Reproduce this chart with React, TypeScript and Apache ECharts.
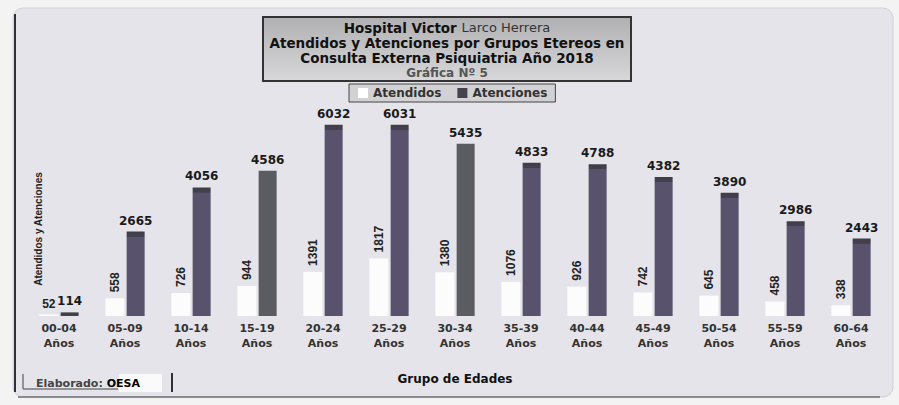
import React, { useEffect, useRef } from "react";
import * as echarts from "echarts";

const categories = ["00-04", "05-09", "10-14", "15-19", "20-24", "25-29", "30-34", "35-39", "40-44", "45-49", "50-54", "55-59", "60-64"];
const atendidos = [52, 558, 726, 944, 1391, 1817, 1380, 1076, 926, 742, 645, 458, 338];
const atenciones = [114, 2665, 4056, 4586, 6032, 6031, 5435, 4833, 4788, 4382, 3890, 2986, 2443];
const titleLines = ["Hospital Victor ", "Larco Herrera", "Atendidos y Atenciones por Grupos Etereos en", "Consulta Externa Psiquiatria Año 2018", "Gráfica Nº 5"];

const Y_MAX = 6500;
const PX_PER_UNIT = 206 / Y_MAX;

export default function App() {
  const ref = useRef<HTMLDivElement>(null);
  useEffect(() => {
    document.body.style.margin = "0";
    document.body.style.background = "#f3f3f4";
    const chart = echarts.init(ref.current!, undefined, { renderer: "svg" });
    const barColor = (v: number, i: number) => {
      const gray = i === 3 || i === 6;
      const base = gray ? "#5a5c62" : "#58526d";
      if (gray) return base;
      const h = Math.max(v * PX_PER_UNIT, 1);
      const cap = Math.min(1, 5 / h);
      return {
        type: "linear", x: 0, y: 0, x2: 0, y2: 1,
        colorStops: [
          { offset: 0, color: "#3f3d47" },
          { offset: cap, color: "#45424f" },
          { offset: Math.min(1, cap + 0.001), color: base },
          { offset: 1, color: base },
        ],
      };
    };
    chart.setOption({
      animation: false,
      backgroundColor: "transparent",
      legend: {
        top: 84,
        left: 349,
        padding: [3, 8, 3, 9],
        backgroundColor: "#d2d2d4",
        borderColor: "#444",
        borderWidth: 1,
        itemWidth: 10,
        itemHeight: 10,
        itemGap: 16,
        icon: "rect",
        textStyle: { fontFamily: "DejaVu Sans", fontWeight: "bold", fontSize: 12, color: "#333" },
        data: [
          { name: "Atendidos", itemStyle: { color: "#ffffff" } },
          { name: "Atenciones", itemStyle: { color: "#45424f" } },
        ],
      },
      grid: { left: 26, right: 15, top: 110, bottom: 89 },
      xAxis: {
        type: "category",
        data: categories.map((c) => c + "\nAños"),
        axisLine: { show: false },
        axisTick: { show: false },
        axisLabel: {
          interval: 0,
          margin: 5,
          fontFamily: "DejaVu Sans",
          fontWeight: "bold",
          fontSize: 11,
          lineHeight: 15,
          color: "#333",
        },
        name: "Grupo de Edades",
        nameLocation: "middle",
        nameGap: 57,
        nameTextStyle: { fontFamily: "DejaVu Sans", fontWeight: "bold", fontSize: 12, color: "#111" },
      },
      yAxis: {
        type: "value",
        min: 0,
        max: Y_MAX,
        show: false,
        splitLine: { show: false },
      },
      series: [
        {
          name: "Atendidos",
          type: "bar",
          barWidth: 19,
          barGap: "12%",
          itemStyle: { color: "#fcfcfc" },
          data: atendidos.map((v, i) =>
            i === 0
              ? { value: v, label: { rotate: 0, align: "center", verticalAlign: "bottom", distance: 4 } }
              : v
          ),
          label: {
            show: true,
            position: "top",
            rotate: 90,
            align: "left",
            verticalAlign: "middle",
            distance: 6,
            fontFamily: "Liberation Sans Narrow, Liberation Sans",
            fontWeight: "bold",
            fontSize: 12,
            color: "#222",
          },
        },
        {
          name: "Atenciones",
          type: "bar",
          barWidth: 18,
          itemStyle: { color: "#58526d" },
          data: atenciones.map((v, i) => ({ value: v, itemStyle: { color: barColor(v, i) } })),
          label: {
            show: true,
            position: "top",
            distance: 5,
            fontFamily: "DejaVu Sans",
            fontWeight: "bold",
            fontSize: 12,
            color: "#1a1a1a",
          },
        },
      ],
      graphic: [
        {
          type: "rect",
          z: -10,
          silent: true,
          shape: { x: 13, y: 8, width: 880, height: 389, r: 10 },
          style: { fill: "#e5e4ea", stroke: "#d0d0d4", lineWidth: 1 },
        },
        { type: "line", z: -9, silent: true, shape: { x1: 15, y1: 14, x2: 15, y2: 392 }, style: { stroke: "#2f2f3a", lineWidth: 2 } },
        { type: "line", z: -9, silent: true, shape: { x1: 18, y1: 397, x2: 880, y2: 397 }, style: { stroke: "#8a8a90", lineWidth: 2 } },
        {
          type: "rect",
          z: -5,
          silent: true,
          shape: { x: 263, y: 17, width: 368, height: 64 },
          style: {
            fill: {
              type: "linear", x: 0, y: 0, x2: 0, y2: 1,
              colorStops: [
                { offset: 0, color: "#b0b0b2" },
                { offset: 1, color: "#d8d8da" },
              ],
            },
            stroke: "#333",
            lineWidth: 2,
          },
        },
        {
          type: "text",
          silent: true,
          x: 447,
          y: 20,
          style: {
            text:
              "{b|" + titleLines[0] + "}{n|" + titleLines[1] + "}\n{b|" + titleLines[2] + "}\n{b|" + titleLines[3] + "}\n{g|" + titleLines[4] + "}",
            align: "center",
            verticalAlign: "top",
            lineHeight: 15,
            rich: {
              b: { fontFamily: "DejaVu Sans", fontWeight: "bold", fontSize: 13.5, fill: "#111", lineHeight: 15 },
              n: { fontFamily: "DejaVu Sans", fontWeight: "normal", fontSize: 13, fill: "#333", lineHeight: 15 },
              g: { fontFamily: "DejaVu Sans", fontWeight: "bold", fontSize: 12, fill: "#555", lineHeight: 15 },
            },
          },
        },
        {
          type: "text",
          silent: true,
          x: 38,
          y: 229,
          rotation: Math.PI / 2,
          style: {
            text: "Atendidos y Atenciones",
            fontFamily: "Liberation Sans Narrow, Liberation Sans",
            fontWeight: "bold",
            fontSize: 10,
            fill: "#222",
            align: "center",
            verticalAlign: "middle",
          },
        },
        { type: "line", silent: true, shape: { x1: 23, y1: 374, x2: 23, y2: 389 }, style: { stroke: "#777", lineWidth: 1.5 } },
        { type: "line", silent: true, shape: { x1: 23, y1: 389, x2: 118, y2: 389 }, style: { stroke: "#777", lineWidth: 1.5 } },
        { type: "rect", silent: true, shape: { x: 119, y: 374, width: 43, height: 18 }, style: { fill: "#fafafa" } },
        {
          type: "text",
          silent: true,
          x: 36,
          y: 383,
          style: {
            text: "{a|Elaborado: }{b|OESA}",
            verticalAlign: "middle",
            rich: {
              a: { fontFamily: "DejaVu Sans", fontWeight: "bold", fontSize: 11, fill: "#444" },
              b: { fontFamily: "DejaVu Sans", fontWeight: "bold", fontSize: 11, fill: "#000" },
            },
          },
        },
        { type: "line", silent: true, shape: { x1: 172, y1: 373, x2: 172, y2: 392 }, style: { stroke: "#333", lineWidth: 2 } },
      ],
    });
    return () => chart.dispose();
  }, []);
  return <div ref={ref} style={{ width: 899, height: 405 }} />;
}
